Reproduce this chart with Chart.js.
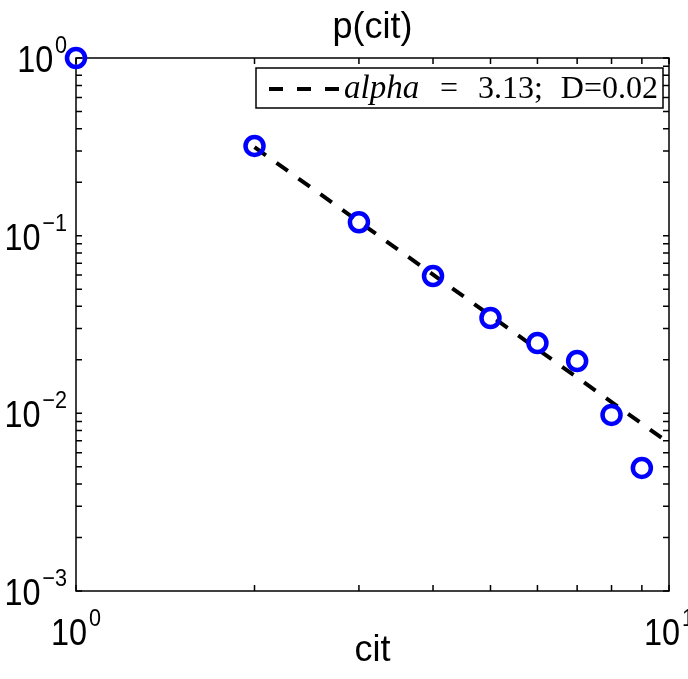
<!DOCTYPE html>
<html>
<head>
    <title>p(cit)</title>
    <script src="https://cdn.jsdelivr.net/npm/chart.js@4.4.1/dist/chart.umd.min.js"></script>
    <style>
        body { margin: 0; background: #fff; }
        .chart-container { width: 688px; height: 679px; }
    </style>
</head>
<body>
    <div class="chart-container">
        <canvas id="citChart"></canvas>
    </div>

    <script>
        // data
        const citValues = [1, 2, 3, 4, 5, 6, 7, 8, 9];
        const pValues = [1, 0.32, 0.119, 0.0593, 0.0344, 0.0249, 0.0197, 0.0098, 0.00493];
        const fitX = [2, 10];
        const fitY = [0.315, 0.0068];
        const xMajorTicks = [1, 10];
        const yMajorTicks = [0.001, 0.01, 0.1, 1];
        const legendParts = ['alpha', '=', '3.13;', 'D=0.02'];

        const SANS = '"Liberation Sans", Arial, sans-serif';
        const SERIF = '"Liberation Serif", "Times New Roman", serif';

        function minorTicks(min, max) {
            const out = [];
            for (let d = min; d < max; d *= 10) {
                for (let k = 1; k < 10; k++) out.push(d * k);
            }
            out.push(max);
            return out;
        }

        // "10" with a raised exponent, a bit condensed; align = 'center' or 'right'
        function drawPower(ctx, x, y, exp, align) {
            const sx = 0.9;
            const base = '10', sup = exp < 0 ? '\u2212' + Math.abs(exp) : String(exp);
            ctx.font = '36px ' + SANS;
            const wb = ctx.measureText(base).width;
            ctx.font = '24px ' + SANS;
            const ws = ctx.measureText(sup).width;
            const total = (wb + 2 + ws) * sx;
            const left = align === 'right' ? x - total : x - total / 2;
            ctx.save();
            ctx.translate(left, y);
            ctx.scale(sx, 1);
            ctx.textAlign = 'left';
            ctx.textBaseline = 'alphabetic';
            ctx.font = '36px ' + SANS;
            ctx.fillText(base, 0, 0);
            ctx.font = '24px ' + SANS;
            ctx.fillText(sup, wb + 2, -19);
            ctx.restore();
        }

        const axesPlugin = {
            id: 'matlabAxes',
            beforeDatasetsDraw(chart) {
                const { ctx, chartArea: a, scales: { x, y } } = chart;
                ctx.save();
                ctx.strokeStyle = '#000';
                ctx.lineWidth = 1.5;
                const len = 6;
                ctx.beginPath();
                minorTicks(1, 10).forEach(v => {
                    const px = x.getPixelForValue(v);
                    ctx.moveTo(px, a.bottom); ctx.lineTo(px, a.bottom - len);
                    ctx.moveTo(px, a.top); ctx.lineTo(px, a.top + len);
                });
                minorTicks(0.001, 1).forEach(v => {
                    const py = y.getPixelForValue(v);
                    ctx.moveTo(a.left, py); ctx.lineTo(a.left + len, py);
                    ctx.moveTo(a.right, py); ctx.lineTo(a.right - len, py);
                });
                ctx.stroke();
                ctx.strokeRect(a.left, a.top, a.right - a.left, a.bottom - a.top);
                ctx.restore();
            },
            afterDraw(chart) {
                const { ctx, chartArea: a, scales: { x, y } } = chart;
                ctx.save();
                ctx.fillStyle = '#000';

                xMajorTicks.forEach(v => drawPower(ctx, x.getPixelForValue(v), a.bottom + 54, Math.round(Math.log10(v)), 'center'));
                yMajorTicks.forEach(v => drawPower(ctx, a.left - 9, y.getPixelForValue(v) + 14, Math.round(Math.log10(v)), 'right'));

                ctx.font = '36px ' + SANS;
                ctx.textAlign = 'center';
                ctx.fillText('p(cit)', (a.left + a.right) / 2, 38);
                ctx.fillText('cit', (a.left + a.right) / 2, 661);

                // legend
                const bx = 256, by = 68, bw = 407, bh = 40;
                ctx.fillStyle = '#fff';
                ctx.fillRect(bx, by, bw, bh);
                ctx.strokeStyle = '#000';
                ctx.lineWidth = 1.5;
                ctx.strokeRect(bx, by, bw, bh);
                ctx.lineWidth = 4;
                ctx.setLineDash([14, 14]);
                ctx.beginPath();
                ctx.moveTo(269, by + 21);
                ctx.lineTo(340, by + 21);
                ctx.stroke();
                ctx.setLineDash([]);
                ctx.fillStyle = '#000';
                const base = by + 30;
                ctx.textAlign = 'left';
                ctx.font = 'italic 33px ' + SERIF;
                ctx.fillText(legendParts[0], 344, base);
                ctx.font = '32px ' + SERIF;
                ctx.textAlign = 'center';
                ctx.fillText(legendParts[1], 449, base);
                ctx.textAlign = 'left';
                ctx.fillText(legendParts[2], 478, base);
                ctx.textAlign = 'right';
                ctx.fillText(legendParts[3], 658, base);
                ctx.restore();
            }
        };

        const ctx = document.getElementById('citChart').getContext('2d');

        new Chart(ctx, {
            type: 'line',
            data: {
                datasets: [{
                    label: 'p(cit)',
                    data: citValues.map((c, i) => ({ x: c, y: pValues[i] })),
                    showLine: false,
                    pointStyle: 'circle',
                    pointRadius: 9,
                    pointBorderWidth: 4.5,
                    pointBorderColor: '#0000ff',
                    pointBackgroundColor: 'rgba(0,0,0,0)',
                    clip: false
                }, {
                    label: legendParts.join(' '),
                    data: fitX.map((c, i) => ({ x: c, y: fitY[i] })),
                    borderColor: '#000',
                    borderWidth: 4,
                    borderDash: [14, 13],
                    pointRadius: 0,
                    tension: 0
                }]
            },
            options: {
                responsive: true,
                maintainAspectRatio: false,
                animation: false,
                layout: { padding: { left: 76, right: 19, top: 58, bottom: 88 } },
                plugins: {
                    legend: { display: false },
                    title: { display: false },
                    tooltip: { enabled: false }
                },
                scales: {
                    x: { type: 'logarithmic', min: 1, max: 10, display: false },
                    y: { type: 'logarithmic', min: 0.001, max: 1, display: false }
                }
            },
            plugins: [axesPlugin]
        });
    </script>
</body>
</html>
